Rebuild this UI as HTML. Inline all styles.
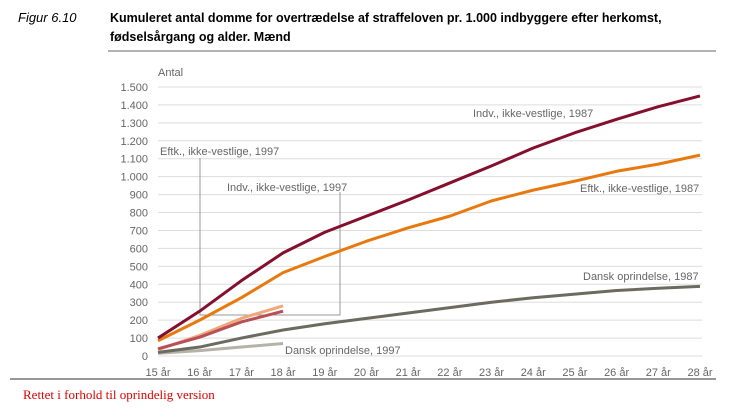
<!DOCTYPE html>
<html><head><meta charset="utf-8"><style>
body{margin:0;width:734px;height:412px;background:#fff;overflow:hidden;font-family:"Liberation Sans",sans-serif}
</style></head><body>
<svg width="734" height="412" xmlns="http://www.w3.org/2000/svg">
<text x="18" y="22" font-size="13" font-style="italic" fill="#000">Figur 6.10</text>
<text x="110" y="22" font-size="12.5" font-weight="bold" fill="#000">Kumuleret antal domme for overtrædelse af straffeloven pr. 1.000 indbyggere efter herkomst,</text>
<text x="110" y="41" font-size="12.5" font-weight="bold" fill="#000">fødselsårgang og alder. Mænd</text>
<line x1="108" y1="51" x2="716" y2="51" stroke="#999" stroke-width="1.5"/>
<line x1="10" y1="379" x2="716" y2="379" stroke="#777" stroke-width="1.5"/>
<text x="23" y="399" font-size="13" fill="#e00000" font-family="Liberation Serif,serif">Rettet i forhold til oprindelig version</text>
<text x="158" y="76" font-size="11" fill="#666">Antal</text>
<g id="grid"></g><g id="ylab"></g><g id="xlab"></g>
<g id="leaders" fill="none" stroke="#999" stroke-width="1">
<polyline points="200,158 200,315 340,315 340,192"/>
</g>
<g id="lines"></g>
<g font-size="11" fill="#666">
<text x="473" y="117">Indv., ikke-vestlige, 1987</text>
<text x="580" y="192">Eftk., ikke-vestlige, 1987</text>
<text x="583" y="280">Dansk oprindelse, 1987</text>
<text x="160" y="155">Eftk., ikke-vestlige, 1997</text>
<text x="227" y="191">Indv., ikke-vestlige, 1997</text>
<text x="285" y="354">Dansk oprindelse, 1997</text>
</g>
</svg>
<script>
const ages=["15 år","16 år","17 år","18 år","19 år","20 år","21 år","22 år","23 år","24 år","25 år","26 år","27 år","28 år"];
const yTicks=[0,100,200,300,400,500,600,700,800,900,1000,1100,1200,1300,1400,1500];
const yTickLabels=["0","100","200","300","400","500","600","700","800","900","1.000","1.100","1.200","1.300","1.400","1.500"];
const indv1987=[100,250,420,575,690,780,870,965,1060,1160,1245,1320,1390,1450];
const eftk1987=[85,200,325,465,555,640,715,780,865,925,975,1030,1070,1120];
const dansk1987=[20,50,100,145,180,210,240,270,300,325,345,365,378,388];
const dansk1997=[15,30,50,70];
const eftk1997=[35,115,210,280];
const indv1997=[40,105,190,250];
const NS="http://www.w3.org/2000/svg";
const X=i=>158+i*(700-158)/13;
const Y=v=>356-v*(356-87)/1500;
const g=id=>document.getElementById(id);
yTicks.forEach((t,i)=>{
  const l=document.createElementNS(NS,"line");
  l.setAttribute("x1",158);l.setAttribute("x2",702);l.setAttribute("y1",Y(t));l.setAttribute("y2",Y(t));
  l.setAttribute("stroke","#ddd");l.setAttribute("stroke-width","1");
  
  
  g("grid").appendChild(l);
  const tx=document.createElementNS(NS,"text");
  tx.setAttribute("x",148);tx.setAttribute("y",Y(t)+4);tx.setAttribute("text-anchor","end");
  tx.setAttribute("font-size","11");tx.setAttribute("fill","#666");tx.textContent=yTickLabels[i];
  
  
  g("ylab").appendChild(tx);
});
ages.forEach((a,i)=>{
  const tx=document.createElementNS(NS,"text");
  tx.setAttribute("x",X(i));tx.setAttribute("y",376);tx.setAttribute("text-anchor","middle");
  tx.setAttribute("font-size","11");tx.setAttribute("fill","#666");tx.textContent=a;
  
  
  g("xlab").appendChild(tx);
});
function line(d,c,name){
  const p=document.createElementNS(NS,"polyline");
  p.setAttribute("points",d.map((v,i)=>X(i)+","+Y(v)).join(" "));
  p.setAttribute("fill","none");p.setAttribute("stroke",c);p.setAttribute("stroke-width","3");
  p.setAttribute("stroke-linejoin","round");
  
  
  g("lines").appendChild(p);
}
line(dansk1997,"#b5b2a8","series-dansk-1997");
line(dansk1987,"#6b6b60","series-dansk-1987");
line(eftk1997,"#f0a878","series-eftk-1997");
line(indv1997,"#b8505a","series-indv-1997");
line(eftk1987,"#e8790f","series-eftk-1987");
line(indv1987,"#850f2e","series-indv-1987");
</script>
</body></html>
